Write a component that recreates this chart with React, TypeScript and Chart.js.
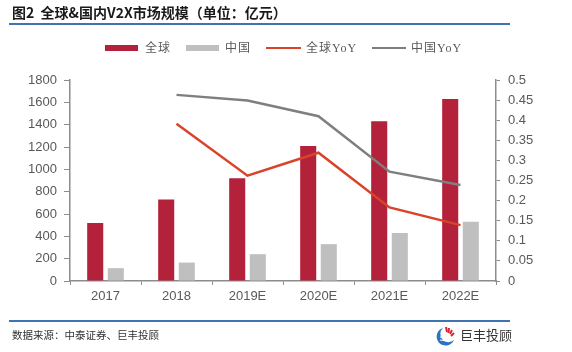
import React, { useEffect, useRef } from "react";
import { Chart, registerables } from "chart.js";

Chart.register(...registerables);

const categories = ["2017", "2018", "2019E", "2020E", "2021E", "2022E"];
const globalValues = [520, 730, 920, 1210, 1430, 1630];
const chinaValues = [115, 165, 240, 330, 430, 530];
const globalYoY = [null, 0.391, 0.262, 0.319, 0.183, 0.139];
const chinaYoY = [null, 0.463, 0.449, 0.41, 0.272, 0.239];
const leftTicks = { min: 0, max: 1800, step: 200 };
const rightTicks = { min: 0, max: 0.5, step: 0.05 };

const BAR_RED = "#b3213b";
const BAR_GRAY = "#bfbfbf";
const LINE_RED = "#d9432a";
const LINE_GRAY = "#7f7f7f";
const AXIS = "#8c8c8c";
const TICK_TXT = "#595959";
const BLUE = "#3f74b0";

export default function App() {
  const ref = useRef<HTMLCanvasElement | null>(null);

  useEffect(() => {
    document.body.style.margin = "0";
    const canvas = ref.current;
    if (!canvas) return;
    const tickFont = { family: "'Liberation Sans', Arial, sans-serif", size: 13 };
    const chart = new Chart(canvas, {
      data: {
        labels: categories,
        datasets: [
          {
            type: "line",
            label: "全球YoY",
            data: globalYoY,
            yAxisID: "y1",
            borderColor: LINE_RED,
            backgroundColor: LINE_RED,
            borderWidth: 2.5,
            pointRadius: 0,
            tension: 0,
            order: 0,
          },
          {
            type: "line",
            label: "中国YoY",
            data: chinaYoY,
            yAxisID: "y1",
            borderColor: LINE_GRAY,
            backgroundColor: LINE_GRAY,
            borderWidth: 2.5,
            pointRadius: 0,
            tension: 0,
            order: 0,
          },
          {
            type: "bar",
            label: "全球",
            data: globalValues,
            yAxisID: "y",
            backgroundColor: BAR_RED,
            categoryPercentage: 0.58,
            barPercentage: 0.78,
            order: 1,
          },
          {
            type: "bar",
            label: "中国",
            data: chinaValues,
            yAxisID: "y",
            backgroundColor: BAR_GRAY,
            categoryPercentage: 0.58,
            barPercentage: 0.78,
            order: 1,
          },
        ],
      } as any,
      options: {
        animation: false,
        responsive: false,
        maintainAspectRatio: false,
        layout: { padding: { top: 80, left: 0, right: 0, bottom: 0 } },
        plugins: { legend: { display: false }, tooltip: { enabled: false } },
        scales: {
          x: {
            offset: true,
            grid: {
              display: true,
              offset: true,
              drawOnChartArea: false,
              drawTicks: true,
              tickLength: 4,
              color: AXIS,
            },
            border: { display: true, color: AXIS, width: 1.5 },
            ticks: { color: TICK_TXT, font: tickFont, padding: 4, maxRotation: 0 },
            afterFit: (s: any) => {
              s.height = 71;
            },
          },
          y: {
            position: "left",
            min: leftTicks.min,
            max: leftTicks.max,
            grid: {
              display: true,
              drawOnChartArea: false,
              drawTicks: true,
              tickLength: 6,
              color: AXIS,
            },
            border: { display: true, color: AXIS, width: 1.5 },
            ticks: {
              stepSize: leftTicks.step,
              color: TICK_TXT,
              font: tickFont,
              padding: 7,
              callback: (v: any) => String(v),
            },
            afterFit: (s: any) => {
              s.width = 70;
            },
          },
          y1: {
            position: "right",
            min: rightTicks.min,
            max: rightTicks.max,
            grid: {
              display: true,
              drawOnChartArea: false,
              drawTicks: true,
              tickLength: 4,
              color: AXIS,
            },
            border: { display: true, color: AXIS, width: 1.5 },
            ticks: {
              stepSize: rightTicks.step,
              color: TICK_TXT,
              font: tickFont,
              padding: 8,
              callback: (v: any) => String(Math.round(Number(v) * 100) / 100),
            },
            afterFit: (s: any) => {
              s.width = 76;
            },
          },
        },
      } as any,
    });
    return () => chart.destroy();
  }, []);

  const legendFont = "'Liberation Serif', 'Noto Sans CJK SC', serif";
  const legendText: React.CSSProperties = {
    position: "absolute",
    top: 40,
    fontFamily: legendFont,
    fontSize: 12,
    color: "#595959",
    lineHeight: "16px",
    letterSpacing: "1px",
    whiteSpace: "nowrap",
  };

  return (
    <div
      style={{
        position: "relative",
        width: 572,
        height: 352,
        background: "#fff",
        overflow: "hidden",
      }}
    >
      <canvas
        ref={ref}
        width={572}
        height={352}
        style={{ position: "absolute", left: 0, top: 0, width: 572, height: 352 }}
      />
      <div
        style={{
          position: "absolute",
          left: 12,
          top: 3,
          fontFamily: "'Noto Sans CJK SC', sans-serif",
          fontWeight: 700,
          fontSize: 14,
          lineHeight: "18px",
          color: "#1a1a1a",
          whiteSpace: "nowrap",
        }}
      >
        图2&nbsp;&nbsp;全球&amp;国内V2X市场规模（单位：亿元）
      </div>
      <div style={{ position: "absolute", left: 9, top: 23, width: 501, height: 2, background: BLUE }} />

      {/* legend */}
      <div style={{ position: "absolute", left: 105, top: 45, width: 33, height: 6, background: BAR_RED }} />
      <div style={{ ...legendText, left: 145 }}>全球</div>
      <div style={{ position: "absolute", left: 186, top: 45, width: 33, height: 6, background: BAR_GRAY }} />
      <div style={{ ...legendText, left: 225 }}>中国</div>
      <div style={{ position: "absolute", left: 266, top: 47, width: 35, height: 2, background: LINE_RED }} />
      <div style={{ ...legendText, left: 306 }}>全球YoY</div>
      <div style={{ position: "absolute", left: 372, top: 47, width: 34, height: 2, background: LINE_GRAY }} />
      <div style={{ ...legendText, left: 411 }}>中国YoY</div>

      {/* footer */}
      <div style={{ position: "absolute", left: 9, top: 320, width: 501, height: 2, background: BLUE }} />
      <div
        style={{
          position: "absolute",
          left: 12,
          top: 328,
          fontFamily: "'Noto Sans CJK SC', sans-serif",
          fontSize: 10.5,
          lineHeight: "14px",
          color: "#333",
          whiteSpace: "nowrap",
        }}
      >
        数据来源：中泰证券、巨丰投顾
      </div>
      <svg
        style={{ position: "absolute", left: 434, top: 325 }}
        width={22}
        height={22}
        viewBox="0 0 22 22"
      >
        <path d="M9 3 A9 9 0 1 0 20 15 A7 7 0 0 1 9 3 Z" fill="#2a74c4" />
        <path d="M12 2 L13 7" stroke="#d8262f" strokeWidth={2} />
        <path d="M15 3 L14.5 8" stroke="#d8262f" strokeWidth={2} />
        <path d="M18 5 L16 9" stroke="#d8262f" strokeWidth={2} />
        <path d="M20 8 L17 11" stroke="#d8262f" strokeWidth={2} />
        <path d="M6 12 L15 14" stroke="#fff" strokeWidth={1.2} />
        <path d="M6 15 L14 16" stroke="#fff" strokeWidth={1.2} />
      </svg>
      <div
        style={{
          position: "absolute",
          left: 460,
          top: 326,
          fontFamily: "'Noto Sans CJK SC', sans-serif",
          fontSize: 13,
          lineHeight: "18px",
          color: "#333",
          whiteSpace: "nowrap",
        }}
      >
        巨丰投顾
      </div>
    </div>
  );
}
